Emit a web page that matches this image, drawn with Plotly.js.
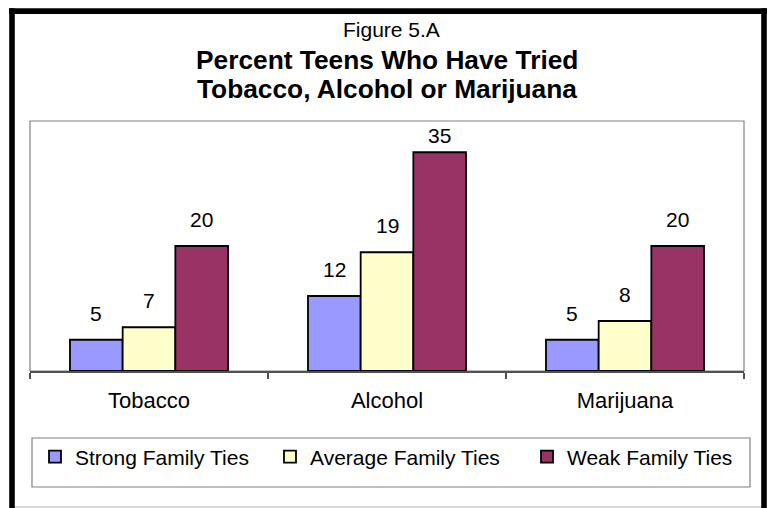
<!DOCTYPE html>
<html>
<head>
<meta charset="utf-8">
<script src="https://cdn.plot.ly/plotly-3.0.1.min.js"></script>
<style>html,body{margin:0;padding:0;background:#fff;}#chart{width:770px;height:508px;}</style>
</head>
<body>
<div id="chart"></div>
<script>
// ---- data ----
const categories = ['Tobacco', 'Alcohol', 'Marijuana'];
const seriesNames = ['Strong Family Ties', 'Average Family Ties', 'Weak Family Ties'];
const strongTies = [5, 12, 5];
const averageTies = [7, 19, 8];
const weakTies = [20, 35, 20];
const titleLine1 = 'Figure 5.A';
const titleLine2 = 'Percent Teens Who Have Tried';
const titleLine3 = 'Tobacco, Alcohol or Marijuana';

// ---- styling / geometry ----
const FONT = 'Liberation Sans, Arial, sans-serif';
const colors = ['#9999FF', '#FFFFCC', '#993366'];
const W = 770, H = 508;
const PL = 30, PR = 744, PT = 121, PB = 371;
const Y_MAX = 40;
const px2x = p => (p - PL) / (PR - PL);
const py2y = p => (PB - p) / (PB - PT);
const bargap = 0.336;
const barPx = (PR - PL) / categories.length * (1 - bargap) / 3;
const pxPerUnit = (PB - PT) / Y_MAX;
const LABEL_GAP = 26.5;       // label centre above bar top
const LABEL_MIN_TOP = 14.5;   // label centre kept at least this far below plot top

const seriesValues = [strongTies, averageTies, weakTies];
const legendIds = ['legend', 'legend2', 'legend3'];

const traces = seriesValues.map((vals, i) => ({
  type: 'bar',
  name: seriesNames[i],
  x: categories,
  y: vals,
  marker: {color: colors[i], line: {color: '#000', width: 1.8}},
  legend: legendIds[i],
  hoverinfo: 'none'
}));

const annotations = [];
seriesValues.forEach((vals, i) => {
  vals.forEach((v, j) => {
    const room = (Y_MAX - v) * pxPerUnit - LABEL_MIN_TOP;
    annotations.push({
      xref: 'x', yref: 'y', x: categories[j], y: v,
      xshift: (i - 1) * barPx, yshift: Math.min(LABEL_GAP, room),
      yanchor: 'middle', xanchor: 'center',
      text: String(v), showarrow: false,
      font: {family: FONT, size: 21, color: '#000'}
    });
  });
});
const titleSpecs = [
  {text: titleLine1, cy: 29.5, size: 21, bold: false, cx: 391.5},
  {text: titleLine2, cy: 59.5, size: 26.3, bold: true, cx: 387},
  {text: titleLine3, cy: 88.5, size: 26.3, bold: true, cx: 387}
];
titleSpecs.forEach(t => annotations.push({
  xref: 'paper', yref: 'paper', x: px2x(t.cx), y: py2y(t.cy),
  xanchor: 'center', yanchor: 'middle', showarrow: false,
  text: t.bold ? '<b>' + t.text + '</b>' : t.text,
  font: {family: FONT, size: t.size, color: '#000'}
}));

const shapes = [
  // plot box
  {type: 'rect', xref: 'paper', yref: 'paper', x0: 0, x1: 1, y0: 0, y1: 1,
   line: {color: '#808080', width: 1.2}, layer: 'below'},
  // legend box
  {type: 'rect', xref: 'paper', yref: 'paper', x0: px2x(32), x1: px2x(750), y0: py2y(487), y1: py2y(438),
   line: {color: '#808080', width: 1.2}},
  // bottom light line
  {type: 'line', xref: 'paper', yref: 'paper', x0: px2x(15), x1: px2x(761), y0: py2y(507), y1: py2y(507),
   line: {color: '#b0b0b0', width: 1}},
  // outer black frame
  {type: 'line', xref: 'paper', yref: 'paper', x0: px2x(12), x1: px2x(12), y0: py2y(8.3), y1: py2y(520),
   line: {color: '#000', width: 5.6}},
  {type: 'line', xref: 'paper', yref: 'paper', x0: px2x(9.2), x1: px2x(766.8), y0: py2y(11.1), y1: py2y(11.1),
   line: {color: '#000', width: 5.6}},
  {type: 'line', xref: 'paper', yref: 'paper', x0: px2x(764), x1: px2x(764), y0: py2y(8.3), y1: py2y(520),
   line: {color: '#000', width: 5.6}}
];

const legendBase = {
  orientation: 'h', xanchor: 'left', yanchor: 'middle', y: py2y(457),
  bgcolor: 'rgba(0,0,0,0)', borderwidth: 0,
  font: {family: FONT, size: 21, color: '#000'}
};
const legendTextStart = [75, 310, 567];

const layout = {
  width: W, height: H,
  margin: {l: PL, r: W - PR, t: PT, b: H - PB, pad: 0},
  paper_bgcolor: '#fff', plot_bgcolor: '#fff',
  barmode: 'group', bargap: bargap, bargroupgap: 0,
  font: {family: FONT, color: '#000'},
  xaxis: {
    type: 'category', showgrid: false, zeroline: false,
    showline: true, linecolor: '#505050', linewidth: 1.5,
    ticks: 'outside', tickson: 'boundaries', ticklen: 6, tickcolor: '#505050', tickwidth: 1.2,
    tickfont: {family: FONT, size: 22, color: '#000'},
    ticklabelstandoff: 9,
    fixedrange: true
  },
  yaxis: {range: [0, Y_MAX], visible: false, fixedrange: true},
  showlegend: true,
  legend: Object.assign({}, legendBase, {x: px2x(legendTextStart[0] - 40)}),
  legend2: Object.assign({}, legendBase, {x: px2x(legendTextStart[1] - 40)}),
  legend3: Object.assign({}, legendBase, {x: px2x(legendTextStart[2] - 40)}),
  annotations: annotations,
  shapes: shapes
};

Plotly.newPlot('chart', traces, layout, {displayModeBar: false, staticPlot: true});
</script>
</body>
</html>
